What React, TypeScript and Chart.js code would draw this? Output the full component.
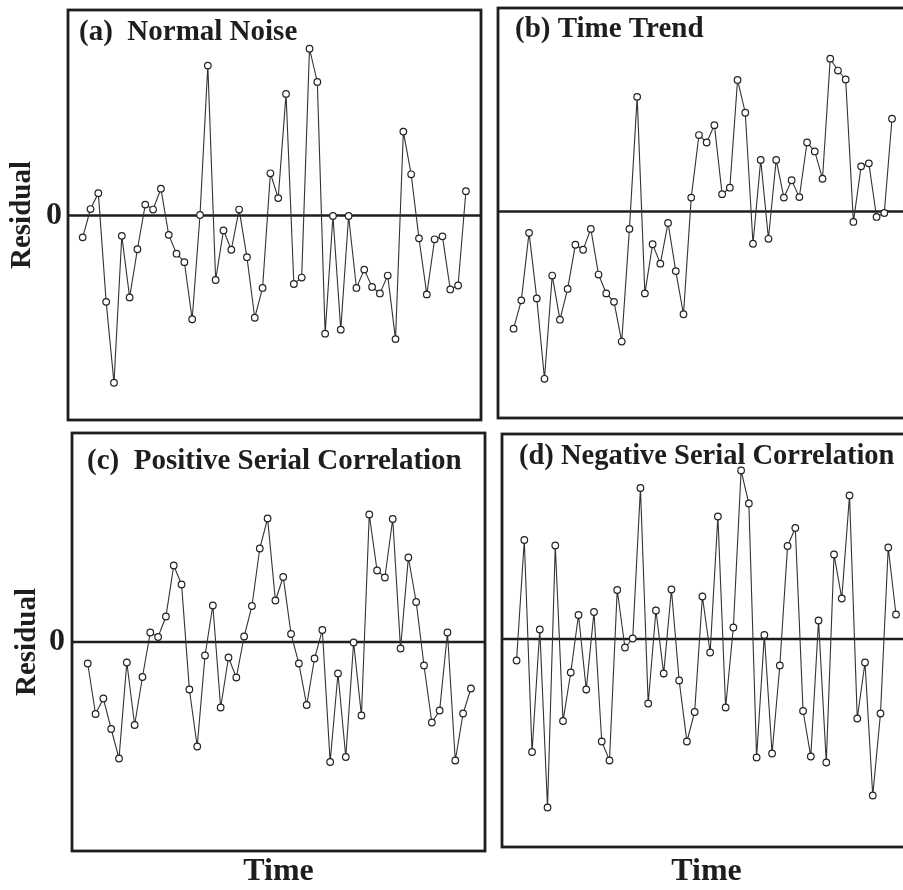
import React, { useEffect, useRef } from 'react';
import { Chart, registerables } from 'chart.js';

Chart.register(...registerables);
Chart.defaults.font.family = "'Liberation Serif', 'Times New Roman', serif";

// ---------- data ----------
const timeIndex = [
  1, 2, 3, 4, 5, 6, 7, 8, 9, 10, 11, 12, 13, 14, 15, 16, 17, 18, 19, 20, 21, 22, 23, 24, 25,
  26, 27, 28, 29, 30, 31, 32, 33, 34, 35, 36, 37, 38, 39, 40, 41, 42, 43, 44, 45, 46, 47, 48, 49, 50,
];

const normalNoise = [
  -0.44, 0.13, 0.45, -1.74, -3.37, -0.41, -1.65, -0.68, 0.22, 0.12,
  0.54, -0.39, -0.77, -0.94, -2.09, 0.01, 3.02, -1.3, -0.3, -0.69,
  0.12, -0.84, -2.06, -1.46, 0.85, 0.35, 2.45, -1.38, -1.25, 3.36,
  2.69, -2.38, -0.01, -2.3, -0.01, -1.46, -1.09, -1.44, -1.57, -1.21,
  -2.49, 1.69, 0.83, -0.46, -1.59, -0.48, -0.42, -1.49, -1.41, 0.49,
];

const timeTrend = [
  -2.36, -1.79, -0.43, -1.75, -3.37, -1.29, -2.18, -1.56, -0.67, -0.77,
  -0.35, -1.27, -1.65, -1.82, -2.62, -0.35, 2.31, -1.65, -0.66, -1.05,
  -0.23, -1.2, -2.07, 0.28, 1.54, 1.39, 1.74, 0.35, 0.48, 2.65,
  1.99, -0.65, 1.04, -0.55, 1.04, 0.28, 0.63, 0.29, 1.39, 1.21,
  0.66, 3.08, 2.84, 2.66, -0.21, 0.91, 0.97, -0.11, -0.03, 1.87,
];

const positiveSerial = [
  -0.43, -1.44, -1.13, -1.74, -2.33, -0.41, -1.66, -0.7, 0.19, 0.1,
  0.51, 1.53, 1.15, -0.95, -2.09, -0.27, 0.73, -1.31, -0.31, -0.71,
  0.11, 0.72, 1.87, 2.47, 0.83, 1.3, 0.16, -0.43, -1.26, -0.33,
  0.24, -2.4, -0.63, -2.3, -0.01, -1.47, 2.55, 1.43, 1.29, 2.46,
  -0.13, 1.69, 0.8, -0.47, -1.61, -1.37, 0.19, -2.37, -1.43, -0.93,
];

const negativeSerial = [
  -0.43, 1.98, -2.26, 0.19, -3.37, 1.87, -1.64, -0.67, 0.48, -1.01,
  0.54, -2.05, -2.43, 0.98, -0.17, 0.01, 3.02, -1.29, 0.57, -0.69,
  0.99, -0.83, -2.05, -1.46, 0.85, -0.27, 2.45, -1.37, 0.23, 3.37,
  2.71, -2.37, 0.08, -2.29, -0.53, 1.86, 2.22, -1.44, -2.35, 0.37,
  -2.47, 1.69, 0.81, 2.87, -1.59, -0.47, -3.13, -1.49, 1.83, 0.49,
];

const panelTitles = [
  '(a)  Normal Noise',
  '(b) Time Trend',
  '(c)  Positive Serial Correlation',
  '(d) Negative Serial Correlation',
];
const yAxisTitle = 'Residual';
const xAxisTitle = 'Time';
const zeroTickLabel = '0';

// ---------- layout (positions / styles only) ----------
const PAGE_H = 890;
const M = 3;
const INK = '#1e1e1e';

type Layout = {
  box: { l: number; t: number; r: number; b: number };
  xMin: number; xMax: number; yMin: number; yMax: number;
  titleDx: number; titleTop: number; titleSize: number;
  showY: boolean; showX: boolean;
  yTitlePad: number; yTickPad: number;
};

const layouts: Layout[] = [
  { box: { l: 68, t: 10, r: 481, b: 423 }, xMin: -0.88, xMax: 51.93, yMin: -4.12, yMax: 4.14,
    titleDx: 11, titleTop: 8.5, titleSize: 29, showY: true, showX: false, yTitlePad: 8.5, yTickPad: 6 },
  { box: { l: 495, t: 8, r: 909, b: 421 }, xMin: -1.02, xMax: 52.2, yMin: -4.16, yMax: 4.1,
    titleDx: 17, titleTop: 7.5, titleSize: 29, showY: false, showX: false, yTitlePad: 0, yTickPad: 0 },
  { box: { l: 72, t: 433, r: 485, b: 851 }, xMin: -1.01, xMax: 51.8, yMin: -4.18, yMax: 4.18,
    titleDx: 15, titleTop: 14.5, titleSize: 29, showY: true, showX: true, yTitlePad: 13, yTickPad: 7 },
  { box: { l: 499, t: 434, r: 911, b: 847 }, xMin: -0.88, xMax: 51.94, yMin: -4.16, yMax: 4.1,
    titleDx: 17, titleTop: 8.5, titleSize: 28.5, showY: false, showX: true, yTitlePad: 0, yTickPad: 0 },
];

const seriesList = [normalNoise, timeTrend, positiveSerial, negativeSerial];

const framePlugin = {
  id: 'frame',
  afterLayout(chart: any, _args: any, opts: any) {
    const t = chart.titleBlock;
    if (t && opts && opts.titleDx) {
      t.left += opts.titleDx;
      t.right += opts.titleDx;
    }
  },
  beforeDatasetsDraw(chart: any) {
    const { ctx, chartArea: a, scales } = chart;
    const y0 = scales.y.getPixelForValue(0);
    ctx.save();
    ctx.strokeStyle = INK;
    ctx.lineWidth = 2.6;
    ctx.beginPath();
    ctx.moveTo(a.left, y0);
    ctx.lineTo(a.right, y0);
    ctx.stroke();
    ctx.lineWidth = 2.8;
    ctx.strokeRect(a.left, a.top, a.right - a.left, a.bottom - a.top);
    ctx.restore();
  },
};

function geometry(L: Layout) {
  const left = L.showY ? 0 : L.box.l - M;
  const top = L.box.t - M;
  const right = L.box.r + M;
  const bottom = L.showX ? PAGE_H : L.box.b + M;
  return { left, top, width: right - left, height: bottom - top, bottom };
}

function Panel({ index }: { index: number }) {
  const ref = useRef<HTMLCanvasElement | null>(null);
  const L = layouts[index];
  const g = geometry(L);

  useEffect(() => {
    if (!ref.current) return;
    const values = seriesList[index];
    const serif = "'Liberation Serif', serif";
    const chart = new Chart(ref.current, {
      type: 'line',
      data: {
        datasets: [
          {
            data: values.map((v, i) => ({ x: timeIndex[i], y: v })),
            borderColor: '#333',
            borderWidth: 1.1,
            pointRadius: 3.3,
            pointBorderWidth: 1.2,
            pointBackgroundColor: '#fff',
            pointBorderColor: '#222',
            tension: 0,
          },
        ],
      },
      options: {
        responsive: false,
        animation: false,
        events: [],
        layout: {
          autoPadding: false,
          padding: { top: M, right: M, bottom: L.showX ? 0 : M, left: L.showY ? 0 : M },
        },
        plugins: {
          legend: { display: false },
          tooltip: { enabled: false },
          title: {
            display: true,
            text: panelTitles[index],
            align: 'start',
            fullSize: false,
            color: INK,
            font: { family: serif, size: L.titleSize, weight: 'bold', lineHeight: 1 },
            padding: { top: L.titleTop, bottom: -(L.titleSize + L.titleTop) },
          },
          // @ts-ignore
          frame: { titleDx: L.titleDx },
        },
        scales: {
          x: {
            type: 'linear',
            min: L.xMin,
            max: L.xMax,
            display: L.showX,
            ticks: { display: false },
            grid: { display: false, drawTicks: false },
            border: { display: false },
            title: {
              display: L.showX,
              text: xAxisTitle,
              color: INK,
              font: { family: serif, size: 32, weight: 'bold', lineHeight: 1 },
              padding: { top: 0, bottom: 2 },
            },
            afterFit: (s: any) => {
              s.height = g.bottom - L.box.b;
              s.paddingLeft = 0;
              s.paddingRight = 0;
            },
          },
          y: {
            type: 'linear',
            position: 'left',
            min: L.yMin,
            max: L.yMax,
            display: L.showY,
            afterBuildTicks: (s: any) => {
              s.ticks = [{ value: 0 }];
            },
            ticks: {
              padding: L.yTickPad,
              color: INK,
              font: { family: serif, size: 32, weight: 'bold', lineHeight: 1 },
              callback: () => zeroTickLabel,
            },
            grid: { display: false, drawTicks: false },
            border: { display: false },
            title: {
              display: L.showY,
              text: yAxisTitle,
              color: INK,
              font: { family: serif, size: 29, weight: 'bold', lineHeight: 1 },
              padding: { top: L.yTitlePad, bottom: 0 },
            },
            afterFit: (s: any) => {
              s.width = L.box.l - g.left;
              s.paddingTop = 0;
              s.paddingBottom = 0;
            },
          },
        },
      },
      plugins: [framePlugin as any],
    });
    return () => chart.destroy();
  }, [index]);

  return (
    <canvas
      ref={ref}
      width={g.width}
      height={g.height}
      style={{ position: 'absolute', left: g.left, top: g.top, width: g.width, height: g.height }}
    />
  );
}

export default function App() {
  return (
    <div
      style={{
        position: 'absolute',
        left: 0,
        top: 0,
        width: 903,
        height: PAGE_H,
        overflow: 'hidden',
        background: '#fff',
      }}
    >
      {layouts.map((_, i) => (
        <Panel key={i} index={i} />
      ))}
    </div>
  );
}
